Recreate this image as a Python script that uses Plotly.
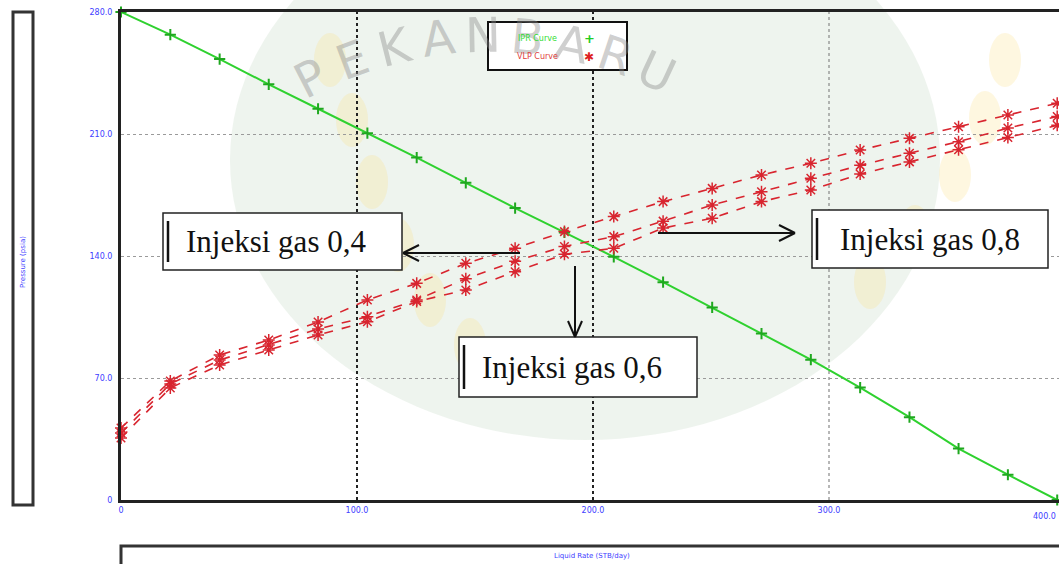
import math
import plotly.graph_objects as go

# Liquid rate (STB/day) sample points shared by the IPR and VLP curves
rate = [0, 20.9, 41.8, 62.6, 83.5, 104.4, 125.3, 146.1, 167.0, 187.9,
        208.8, 229.7, 250.5, 271.4, 292.3, 313.2, 334.1, 354.9, 375.8, 396.7]

# Inflow performance (psia)
ipr_p = [280, 267, 253, 238.5, 224.5, 210.5, 196.5, 182, 167.5, 153.5,
         139.5, 125, 110.5, 95.5, 80.5, 64.5, 47.5, 29.5, 14.5, 0]

# Vertical lift performance for three gas injection rates (psia)
vlp_04 = [41.3, 68.3, 83.2, 91.8, 102.1, 114.8, 124.3, 135.8, 144.4, 154.0,
          162.6, 171.2, 178.8, 186.5, 193.2, 200.8, 207.5, 214.2, 220.9, 227.6]
vlp_06 = [38.4, 66.6, 80.3, 89.0, 98.1, 105.2, 114.8, 127.0, 137.0, 145.5,
          151.1, 160.0, 169.3, 176.9, 184.6, 192.0, 199.0, 205.6, 213.4, 220.0]
vlp_08 = [35.6, 64.3, 77.5, 86.1, 94.7, 102.3, 113.9, 120.5, 131.0, 141.0,
          144.4, 156.0, 161.7, 171.2, 177.9, 187.0, 194.0, 201.0, 208.0, 215.0]

x_ticks = [0, 100, 200, 300]
x_tick_text = ["0", "100.0", "200.0", "300.0"]
y_ticks = [0, 70, 140, 210, 280]
y_tick_text = ["0", "70.0", "140.0", "210.0", "280.0"]

label_texts = ["Injeksi gas 0,4", "Injeksi gas 0,6", "Injeksi gas 0,8"]
watermark = "PEKANBARU"

W, H = 1059, 564
L, T, R, B = 121, 12, 0, 64
PW, PH = W - L - R, H - T - B


def px(x):
    return (x - L) / PW


def py(y):
    return (H - B - y) / PH


def note(x, y, text, size, color, family="DejaVu Sans", angle=0, anchor="center"):
    return dict(x=px(x), y=py(y), xref="paper", yref="paper", text=text,
                showarrow=False, xanchor=anchor, yanchor="middle",
                textangle=angle, font=dict(size=size, color=color, family=family))


fig = go.Figure()

fig.add_trace(go.Scatter(
    x=rate, y=ipr_p, mode="lines+markers", name="IPR Curve",
    line=dict(color="#2fd12f", width=2),
    marker=dict(symbol="cross-thin", size=8, color="#1fa81f",
                line=dict(color="#1fa81f", width=2)),
    cliponaxis=False,
))

for vals in (vlp_04, vlp_06, vlp_08):
    fig.add_trace(go.Scatter(
        x=rate, y=vals, mode="lines+markers", name="VLP Curve",
        line=dict(color="#d8252f", width=1.6, dash="dash"),
        marker=dict(symbol="asterisk-open", size=10,
                    line=dict(color="#e0202a", width=1.5)),
        cliponaxis=False,
    ))

shapes = []
annotations = []

# faint seal behind the plot
shapes.append(dict(type="circle", xref="paper", yref="paper", layer="below",
                   x0=px(230), x1=px(940), y0=py(440), y1=py(-120),
                   fillcolor="rgba(120,170,120,0.13)", line=dict(width=0)))
leaf_centres = [(330, 60), (352, 120), (372, 182), (398, 245), (430, 300),
                (470, 345), (1005, 60), (985, 118), (955, 175), (915, 232),
                (870, 282)]
for cx, cy in leaf_centres:
    shapes.append(dict(type="circle", xref="paper", yref="paper", layer="below",
                       x0=px(cx - 16), x1=px(cx + 16), y0=py(cy + 27), y1=py(cy - 27),
                       fillcolor="rgba(250,222,130,0.25)", line=dict(width=0)))

cx0, cy0, rad = 490, 430, 395
angles = [-27, -20.5, -14, -7.5, -1, 5.5, 12, 18.5, 25]
for ch, a in zip(watermark, angles):
    t = math.radians(a)
    annotations.append(note(cx0 + rad * math.sin(t), cy0 - rad * math.cos(t), ch,
                            48, "rgba(140,140,140,0.42)", angle=a))

# vertical dotted grid
for xv in x_ticks[1:]:
    shapes.append(dict(type="line", xref="x", yref="paper", x0=xv, x1=xv,
                       y0=0, y1=1, layer="below",
                       line=dict(color="#222" if xv < 300 else "#888",
                                 width=2 if xv < 300 else 1.2, dash="dot")))

# axis title boxes
shapes.append(dict(type="rect", xref="paper", yref="paper",
                   x0=px(13), x1=px(33), y0=py(505), y1=py(12),
                   line=dict(color="#333", width=3)))
annotations.append(note(23, 262, "Pressure (psia)", 7, "#4040ff", angle=-90))
shapes.append(dict(type="rect", xref="paper", yref="paper",
                   x0=px(121), x1=px(1070), y0=py(572), y1=py(546),
                   line=dict(color="#333", width=3)))
annotations.append(note(592, 556, "Liquid Rate (STB/day)", 7, "#4040ff"))
annotations.append(note(1058, 516, "400.0", 8, "#4040ff", anchor="right"))

# legend box
shapes.append(dict(type="rect", xref="paper", yref="paper",
                   x0=px(488), x1=px(627), y0=py(70), y1=py(22),
                   fillcolor="white", line=dict(color="#111", width=2)))
annotations += [
    note(537, 38, "IPR Curve", 8, "#33dd33"),
    note(589, 38, "<b>+</b>", 13, "#22cc22"),
    note(537, 57, "VLP Curve", 8, "#e04040"),
    note(589, 57, "<b>✱</b>", 12, "#dd2020"),
]

# gas injection call-outs: box edges and text centre
boxes = [(163, 402, 213, 270, 276), (459, 697, 337, 397, 572),
         (812, 1048, 210, 268, 930)]
for text, (x0, x1, y0, y1, tx) in zip(label_texts, boxes):
    shapes.append(dict(type="rect", xref="paper", yref="paper",
                       x0=px(x0), x1=px(x1), y0=py(y1), y1=py(y0),
                       fillcolor="white", line=dict(color="#222", width=1.5)))
    shapes.append(dict(type="line", xref="paper", yref="paper",
                       x0=px(x0 + 5), x1=px(x0 + 5), y0=py(y0 + 8), y1=py(y1 - 8),
                       line=dict(color="#111", width=2.5)))
    annotations.append(note(tx, (y0 + y1) / 2, text, 31, "#111",
                            family="Liberation Serif"))

arrow_segments = [
    ((520, 253), (403, 253), [(419, 245), (419, 261)]),
    ((575, 266), (575, 337), [(568, 321), (582, 321)]),
    ((658, 233), (795, 233), [(779, 225), (779, 241)]),
]
for (xa, ya), (xb, yb), heads in arrow_segments:
    shapes.append(dict(type="line", xref="paper", yref="paper",
                       x0=px(xa), y0=py(ya), x1=px(xb), y1=py(yb),
                       line=dict(color="#111", width=2)))
    for hx, hy in heads:
        shapes.append(dict(type="line", xref="paper", yref="paper",
                           x0=px(xb), y0=py(yb), x1=px(hx), y1=py(hy),
                           line=dict(color="#111", width=2)))

fig.update_layout(
    width=W, height=H,
    margin=dict(l=L, r=R, t=T, b=B),
    paper_bgcolor="white", plot_bgcolor="rgba(0,0,0,0)",
    showlegend=False,
    shapes=shapes, annotations=annotations,
    xaxis=dict(range=[0, PW / 2.36], tickvals=x_ticks, ticktext=x_tick_text,
               showgrid=False, zeroline=False, showline=True, mirror=True,
               linecolor="#222", linewidth=3, ticks="",
               tickfont=dict(size=8, color="#4040ff", family="DejaVu Sans")),
    yaxis=dict(range=[0, 280], tickvals=y_ticks, ticktext=y_tick_text,
               showgrid=True, gridcolor="#9a9a9a", griddash="dot", gridwidth=1.2,
               zeroline=False, showline=True, linecolor="#222", linewidth=3,
               ticks="", ticklabelstandoff=4,
               tickfont=dict(size=8, color="#4040ff", family="DejaVu Sans")),
)

fig.write_html("out.html")
